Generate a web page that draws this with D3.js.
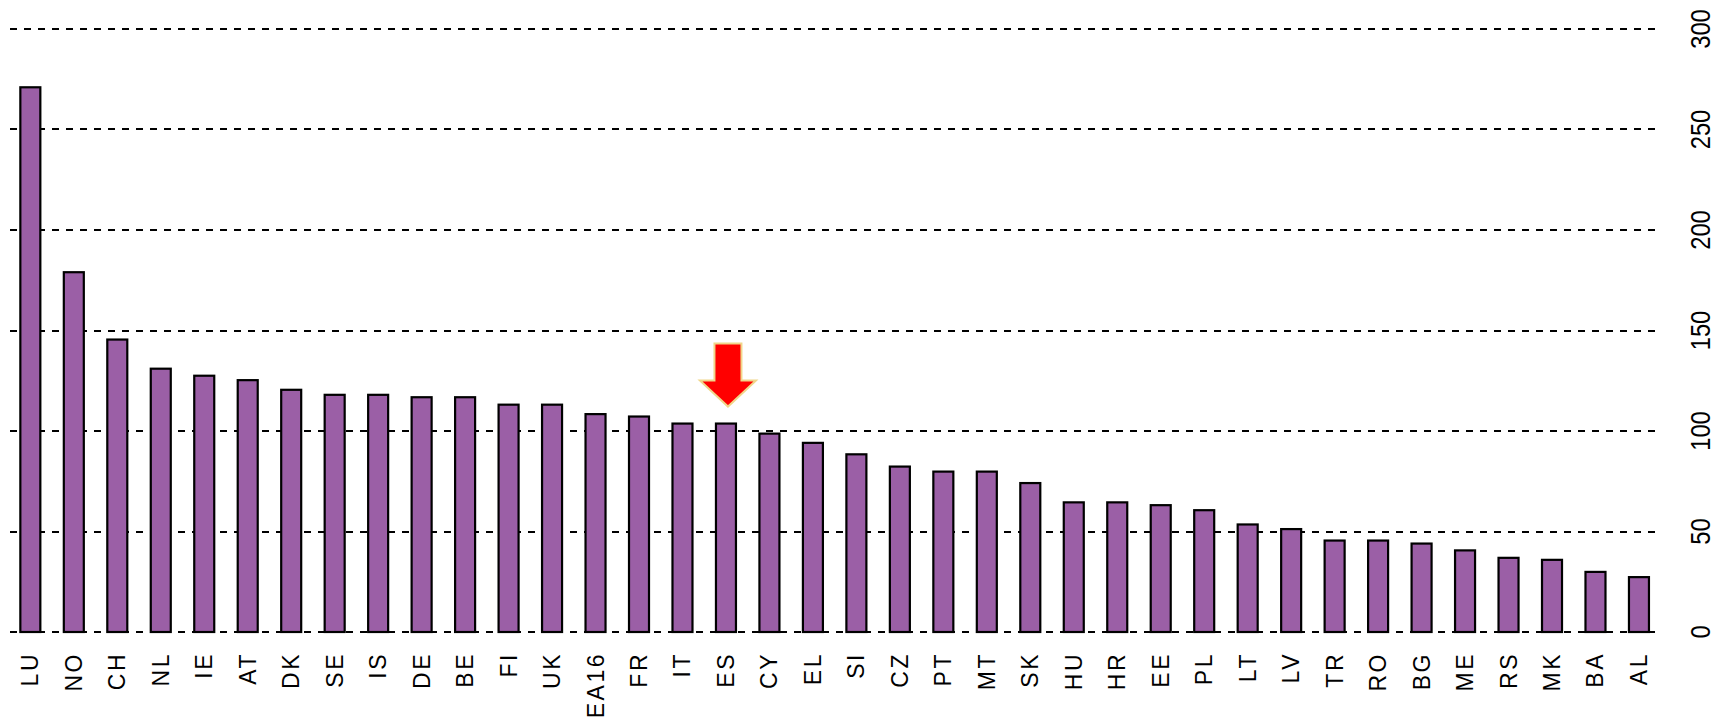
<!DOCTYPE html>
<html lang="en">
<head>
    <meta charset="UTF-8">
    <script src="https://d3js.org/d3.v7.min.js"></script>
    <title>GDP per capita</title>
    <style>
        body { margin: 0; background: #fff; }
    </style>
</head>
<body>
    <svg width="1727" height="724" id="chart"></svg>
    <script>
        // country codes, left to right
        const countries = ["LU","NO","CH","NL","IE","AT","DK","SE","IS","DE","BE","FI","UK","EA16",
            "FR","IT","ES","CY","EL","SI","CZ","PT","MT","SK","HU","HR","EE","PL","LT","LV",
            "TR","RO","BG","ME","RS","MK","BA","AL"];
        // values
        const values = [271,179,145.5,131,127.5,125.3,120.5,118,118,116.8,116.8,113.1,113.1,108.4,
            107.2,103.7,103.7,98.7,94.1,88.4,82.3,79.8,79.8,74.1,64.5,64.5,63.1,60.6,53.5,51.2,
            45.5,45.5,44,40.6,36.9,35.9,29.9,27.3];
        const yTicks = [0, 50, 100, 150, 200, 250, 300];
        const highlight = "ES";

        const svg = d3.select("#chart");

        const x = d3.scaleBand()
            .domain(countries)
            .range([8.6, 1660.7])
            .paddingInner(0.54)
            .paddingOuter(0.27);

        const y = d3.scaleLinear()
            .domain([0, 300])
            .range([632, 29]);

        // dashed grid lines
        svg.append("g")
            .selectAll("line")
            .data(yTicks)
            .join("line")
            .attr("x1", 10)
            .attr("x2", 1658)
            .attr("y1", d => Math.round(y(d)))
            .attr("y2", d => Math.round(y(d)))
            .attr("shape-rendering", "crispEdges")
            .attr("style", "stroke: #000; stroke-width: 2.5; stroke-dasharray: 7,7");

        // bars
        svg.append("g")
            .selectAll("rect")
            .data(countries)
            .join("rect")
            .attr("x", d => x(d))
            .attr("width", x.bandwidth())
            .attr("y", (d, i) => y(values[i]))
            .attr("height", (d, i) => y(0) - y(values[i]))
            .attr("style", "fill: #9b5fa6; stroke: #000; stroke-width: 2.2");

        // country labels, rotated
        svg.append("g")
            .selectAll("text")
            .data(countries)
            .join("text")
            .attr("transform", d => "translate(" + (x(d) + x.bandwidth() / 2) + ",652) rotate(-90)")
            .attr("text-anchor", "end")
            .attr("dominant-baseline", "central")
            .attr("style", "font-family: 'Liberation Sans', Arial, sans-serif; font-size: 23px; letter-spacing: 2.5px; fill: #000")
            .text(d => d);

        // value labels on the right
        svg.append("g")
            .selectAll("text")
            .data(yTicks)
            .join("text")
            .attr("transform", d => "translate(1700," + y(d) + ") rotate(-90) scale(0.85,1)")
            .attr("text-anchor", "middle")
            .attr("dominant-baseline", "central")
            .attr("style", "font-family: 'Liberation Sans', Arial, sans-serif; font-size: 28px; fill: #000")
            .text(d => d);

        // red arrow over the highlighted bar
        const cx = x(highlight) + x.bandwidth() / 2 + 2;
        const tip = y(values[countries.indexOf(highlight)]) - 17;
        const arrow = d3.path();
        arrow.moveTo(cx - 13.5, tip - 63);
        arrow.lineTo(cx + 13.5, tip - 63);
        arrow.lineTo(cx + 13.5, tip - 26);
        arrow.lineTo(cx + 28, tip - 26);
        arrow.lineTo(cx, tip);
        arrow.lineTo(cx - 28, tip - 26);
        arrow.lineTo(cx - 13.5, tip - 26);
        arrow.closePath();
        svg.append("path")
            .attr("d", arrow.toString())
            .attr("style", "fill: #ff0000; stroke: #f0d68a; stroke-width: 2");
    </script>
</body>
</html>
